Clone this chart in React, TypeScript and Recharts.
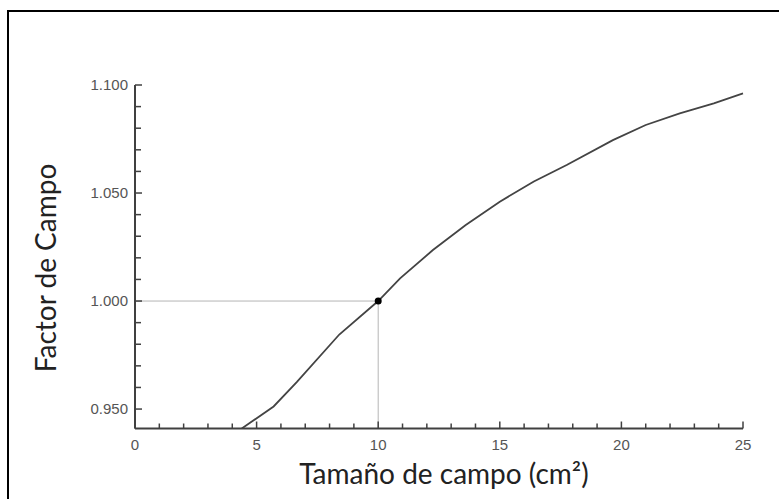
import React from 'react';
import { LineChart, Line, XAxis, YAxis, ReferenceLine, ReferenceDot } from 'recharts';

const fieldSize = [4.39, 5.7, 6.65, 8.4, 10.0, 10.9, 12.25, 13.6, 15.0, 16.4, 17.75, 19.65, 21.0, 22.4, 23.8, 25.0];
const fieldFactor = [0.941, 0.9512, 0.9625, 0.9845, 1.0, 1.0105, 1.0236, 1.0352, 1.046, 1.0553, 1.063, 1.0745, 1.0815, 1.0869, 1.0915, 1.0961];

const xTicks = [0, 1, 2, 3, 4, 5, 6, 7, 8, 9, 10, 11, 12, 13, 14, 15, 16, 17, 18, 19, 20, 21, 22, 23, 24, 25];
const xLabelTicks = [0, 5, 10, 15, 20, 25];
const yTicks = [0.95, 0.96, 0.97, 0.98, 0.99, 1.0, 1.01, 1.02, 1.03, 1.04, 1.05, 1.06, 1.07, 1.08, 1.09, 1.1];
const yLabelTicks = [0.95, 1.0, 1.05, 1.1];

const refX = 10;
const refY = 1.0;
const yMin = 0.941;
const yMax = 1.1;

const xTitle = 'Tamaño de campo (cm²)';
const yTitle = 'Factor de Campo';

const data = fieldSize.map((x, i) => ({ x, y: fieldFactor[i] }));

const AXIS = '#404040';
const TICK_TEXT = '#555';

const XTick = (props: any) => {
  const { x, y, payload } = props;
  const v = payload.value;
  const major = xLabelTicks.some((t) => Math.abs(t - v) < 1e-9);
  return (
    <g>
      <line x1={x} x2={x} y1={y} y2={y - (major ? 7 : 5)} stroke={AXIS} strokeWidth={1.5} />
      {major && (
        <text x={x} y={y + 21.5} textAnchor="middle" fontFamily="'Liberation Sans', Arial, sans-serif" fontSize={15} fill={TICK_TEXT}>
          {String(v)}
        </text>
      )}
    </g>
  );
};

const YTick = (props: any) => {
  const { x, y, payload } = props;
  const v = payload.value;
  const major = yLabelTicks.some((t) => Math.abs(t - v) < 1e-9);
  return (
    <g>
      <line x1={x} x2={x + (major ? 7 : 6)} y1={y} y2={y} stroke={AXIS} strokeWidth={1.5} />
      {major && (
        <text x={x - 7} y={y + 5.3} textAnchor="end" fontFamily="'Liberation Sans', Arial, sans-serif" fontSize={15} fill={TICK_TEXT}>
          {v.toFixed(3)}
        </text>
      )}
    </g>
  );
};

export default function App() {
  return (
    <div style={{ position: 'absolute', left: 0, top: 0, width: 779, height: 499, overflow: 'hidden', background: '#fff' }}>
      <div
        style={{
          position: 'absolute',
          left: 7,
          top: 10,
          width: 900,
          height: 700,
          border: '2px solid #000',
          boxSizing: 'border-box',
        }}
      />
      <div style={{ position: 'absolute', left: 0, top: 0 }}>
        <LineChart width={779} height={499} data={data} margin={{ top: 85, right: 36, bottom: 40.5, left: 75 }}>
          <XAxis
            type="number"
            dataKey="x"
            domain={[0, 25]}
            ticks={xTicks}
            interval={0}
            height={30}
            tickSize={0}
            tickMargin={0}
            tickLine={false}
            axisLine={{ stroke: AXIS, strokeWidth: 2 }}
            tick={(p: any) => <XTick {...p} />}
            label={(lp: any) => {
              const vb = lp.viewBox || {};
              return (
                <text x={vb.x + vb.width / 2 + 5} y={484} textAnchor="middle" fontFamily="Lato, sans-serif" fontSize={28} fill="#222">
                  {xTitle}
                </text>
              );
            }}
          />
          <YAxis
            type="number"
            dataKey="y"
            domain={[yMin, yMax]}
            allowDataOverflow
            ticks={yTicks}
            interval={0}
            width={60}
            tickSize={0}
            tickMargin={0}
            tickLine={false}
            axisLine={{ stroke: AXIS, strokeWidth: 2 }}
            tick={(p: any) => <YTick {...p} />}
            label={() => {
              const cx = 45;
              const cy = 268;
              return (
                <text x={cx} y={cy} transform={`rotate(-90 ${cx} ${cy})`} textAnchor="middle" dominantBaseline="central" fontFamily="Lato, sans-serif" fontSize={28} fill="#222">
                  {yTitle}
                </text>
              );
            }}
          />
          <ReferenceLine segment={[{ x: 0, y: refY }, { x: refX, y: refY }]} stroke="#b5b5b5" strokeWidth={1} />
          <ReferenceLine segment={[{ x: refX, y: refY }, { x: refX, y: yMin }]} stroke="#b5b5b5" strokeWidth={1} />
          <Line type="linear" dataKey="y" stroke="#444" strokeWidth={1.8} dot={false} activeDot={false} isAnimationActive={false} />
          <ReferenceDot x={refX} y={refY} r={3.5} fill="#000" stroke="none" />
        </LineChart>
      </div>
    </div>
  );
}
